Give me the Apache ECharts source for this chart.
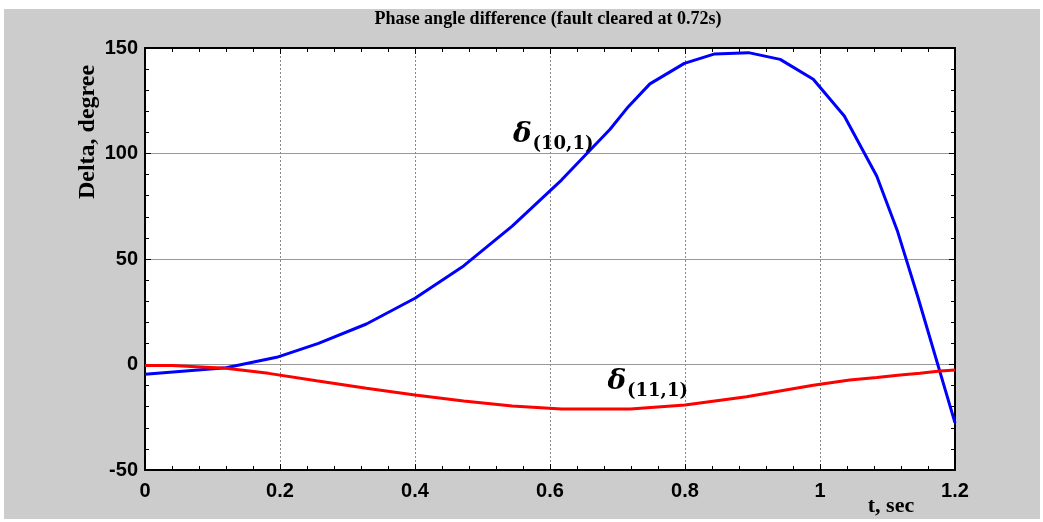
<!DOCTYPE html>
<html>
<head>
<meta charset="utf-8">
<script src="https://cdn.jsdelivr.net/npm/echarts@6/dist/echarts.min.js"></script>
<style>
  html, body { margin: 0; padding: 0; background: #fff; }
  #chart { width: 1043px; height: 522px; }
</style>
</head>
<body>
<div id="chart"></div>
<script>
  // delta(10,1) - blue curve, [t, degree]
  var tBlue = [0, 0.12, 0.195, 0.257, 0.328, 0.4, 0.472, 0.544, 0.617, 0.689, 0.716, 0.748, 0.799, 0.844, 0.894, 0.941, 0.99, 1.036, 1.084, 1.115, 1.145, 1.2];
  var dBlue = [-4.6, -1.5, 3.4, 10, 19.2, 31.4, 46.7, 65.6, 87.4, 111.5, 122.2, 133, 142.7, 147.2, 147.8, 144.6, 135.2, 117.8, 89.3, 63, 32, -27.7];
  // delta(11,1) - red curve
  var tRed = [0, 0.04, 0.12, 0.183, 0.254, 0.328, 0.4, 0.472, 0.544, 0.617, 0.719, 0.8, 0.891, 0.99, 1.044, 1.084, 1.119, 1.148, 1.178, 1.2];
  var dRed = [-0.5, -0.5, -1.8, -4.2, -7.7, -11.3, -14.5, -17.3, -19.7, -21.1, -21.1, -19.2, -15.3, -9.8, -7.3, -6.2, -5, -4.2, -3.1, -2.6];

  var xTicks = ['0', '0.2', '0.4', '0.6', '0.8', '1', '1.2'];

  function pairs(t, d) {
    var out = [];
    for (var i = 0; i < t.length; i++) out.push([t[i], d[i]]);
    return out;
  }

  var chart = echarts.init(document.getElementById('chart'));

  var tickStyle = { show: true, inside: true, length: 6, lineStyle: { color: '#000', width: 1 } };
  var minorStyle = { show: true, splitNumber: 5, length: 4, lineStyle: { color: '#000', width: 1 } };
  var axisLineStyle = { show: true, onZero: false, lineStyle: { color: '#000', width: 2 } };

  // rich styles for the delta annotations
  var deltaRich = {
    d: { fontFamily: 'DejaVu Serif', fontWeight: 'bold', fontStyle: 'italic', fontSize: 28, color: '#000', verticalAlign: 'bottom', lineHeight: 34, padding: [0, 1, 5, 0] },
    s: { fontFamily: 'DejaVu Serif', fontWeight: 'bold', fontSize: 18, color: '#000', verticalAlign: 'bottom', lineHeight: 22 }
  };

  var option = {
    backgroundColor: '#fff',
    animation: false,
    graphic: [
      { type: 'rect', z: -10, shape: { x: 4, y: 9, width: 1036, height: 510 }, style: { fill: '#cccccc' } },
      { type: 'text', x: 548, y: 19, style: { text: 'Phase angle difference (fault cleared at 0.72s)', font: 'bold 18px "Liberation Serif"', fill: '#000', align: 'center', verticalAlign: 'middle' } },
      { type: 'text', x: 88, y: 132, rotation: Math.PI / 2, style: { text: 'Delta, degree', font: 'bold 24px "Liberation Serif"', fill: '#000', align: 'center', verticalAlign: 'middle' } },
      { type: 'text', x: 891, y: 506, style: { text: 't, sec', font: 'bold 22px "Liberation Serif"', fill: '#000', align: 'center', verticalAlign: 'middle' } }
    ],
    grid: { left: 145, right: 88, top: 48, bottom: 52, show: true, backgroundColor: '#fff', borderWidth: 0 },
    xAxis: [
      {
        type: 'value', min: 0, max: 1.2, interval: 0.2, position: 'bottom',
        axisLine: axisLineStyle, axisTick: tickStyle, minorTick: minorStyle,
        axisLabel: {
          margin: 11, color: '#000', fontFamily: 'Liberation Sans', fontWeight: 'bold', fontSize: 20,
          formatter: function (v) { return xTicks[Math.round(v / 0.2)]; }
        },
        splitLine: { show: true, lineStyle: { color: '#888', type: [2, 2], width: 1 } }
      },
      {
        type: 'value', min: 0, max: 1.2, interval: 0.2, position: 'top',
        axisLine: axisLineStyle, axisTick: tickStyle, minorTick: minorStyle,
        axisLabel: { show: false }, splitLine: { show: false }
      }
    ],
    yAxis: [
      {
        type: 'value', min: -50, max: 150, interval: 50, position: 'left',
        axisLine: axisLineStyle, axisTick: tickStyle, minorTick: minorStyle,
        axisLabel: { margin: 7, color: '#000', fontFamily: 'Liberation Sans', fontWeight: 'bold', fontSize: 20 },
        splitLine: { show: true, lineStyle: { color: '#999', width: 1 } }
      },
      {
        type: 'value', min: -50, max: 150, interval: 50, position: 'right',
        axisLine: axisLineStyle, axisTick: tickStyle, minorTick: minorStyle,
        axisLabel: { show: false }, splitLine: { show: false }
      }
    ],
    series: [
      {
        name: 'delta(10,1)', type: 'line', data: pairs(tBlue, dBlue),
        showSymbol: false, smooth: false,
        lineStyle: { color: '#0000ff', width: 3 }, itemStyle: { color: '#0000ff' },
        markPoint: {
          symbol: 'circle', symbolSize: 0, silent: true,
          label: { show: true, position: 'right', distance: 0, formatter: '{d|δ}{s|(10,1)}', rich: deltaRich },
          data: [{ coord: [0.545, 108] }]
        }
      },
      {
        name: 'delta(11,1)', type: 'line', data: pairs(tRed, dRed),
        showSymbol: false, smooth: false,
        lineStyle: { color: '#ff0000', width: 3 }, itemStyle: { color: '#ff0000' },
        markPoint: {
          symbol: 'circle', symbolSize: 0, silent: true,
          label: { show: true, position: 'right', distance: 0, formatter: '{d|δ}{s|(11,1)}', rich: deltaRich },
          data: [{ coord: [0.685, -9] }]
        }
      }
    ]
  };

  chart.setOption(option);
  window.onresize = chart.resize;
</script>
</body>
</html>
